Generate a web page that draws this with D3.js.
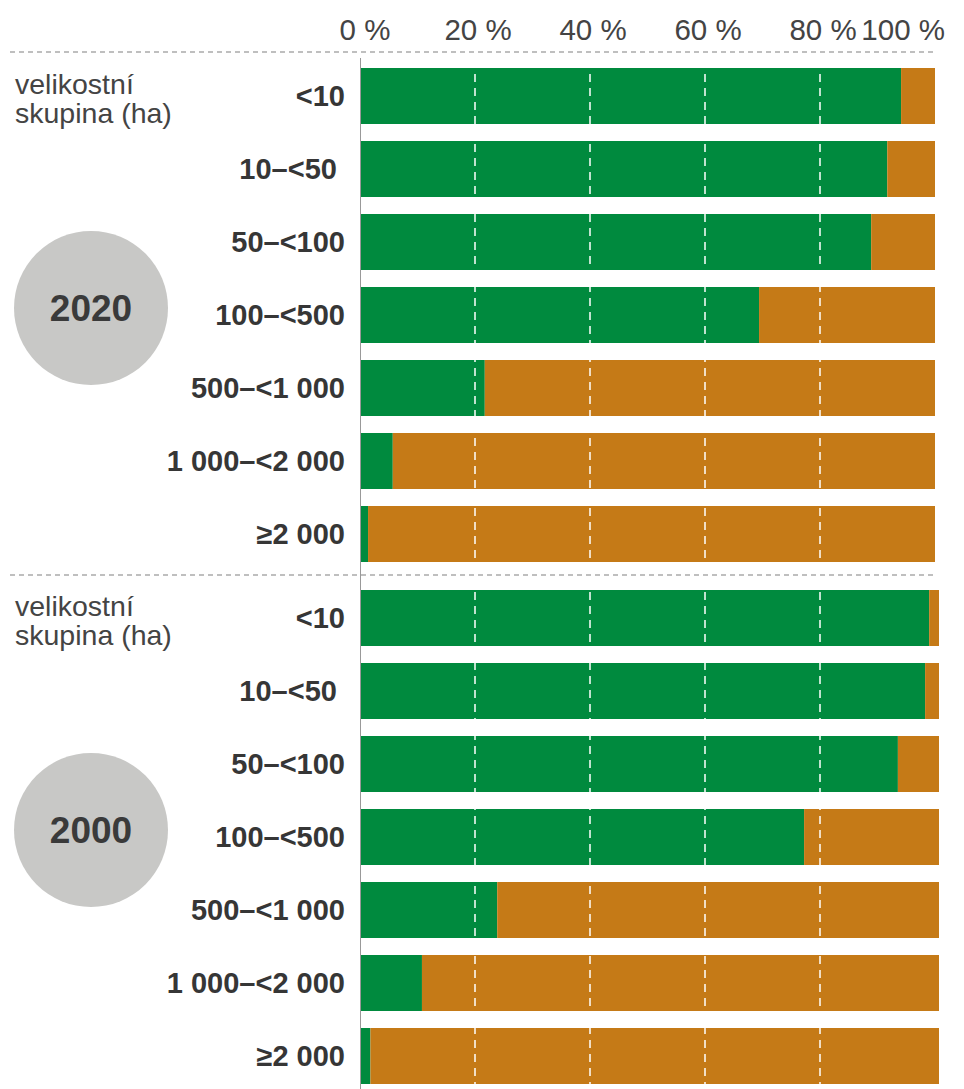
<!DOCTYPE html>
<html>
<head>
<meta charset="utf-8">
<script src="https://cdn.jsdelivr.net/npm/d3@7"></script>
<style>
  html, body { margin: 0; padding: 0; background: #fff; }
  svg { display: block; }
</style>
</head>
<body>
<svg id="chart" width="964" height="1089"></svg>
<script>
// ---- data ----
const categories = ["<10", "10\u2013<50\u00a0", "50\u2013<100", "100\u2013<500", "500\u2013<1\u00a0000", "1\u00a0000\u2013<2\u00a0000", "\u22652\u00a0000"];
const years = ["2020", "2000"];
const green2020 = [94.1, 91.7, 88.9, 69.4, 21.7, 5.7, 1.4];
const green2000 = [98.3, 97.6, 92.9, 76.7, 23.7, 10.7, 1.8];
const tickValues = [0, 20, 40, 60, 80, 100];
const tickLabels = ["0 %", "20 %", "40 %", "60 %", "80 %", "100 %"];
const groupLabel = ["velikostní", "skupina (ha)"];

const GREEN = "#008a3e", ORANGE = "#c57a17", CIRCLE = "#c8c8c6", TEXT = "#363636";
const FONT = "'Liberation Sans', Arial, sans-serif";

const svg = d3.select("#chart");

// axis scale (used for ticks and grid)
const x = d3.scaleLinear().domain([0, 100]).range([360, 935]);
const panels = [
  { year: years[0], values: green2020, x: d3.scaleLinear().domain([0, 100]).range([360, 935]), y0: 59.5, y1: 570.5, cy: 308 },
  { year: years[1], values: green2000, x: d3.scaleLinear().domain([0, 100]).range([360, 939]), y0: 581.5, y1: 1092.5, cy: 830 }
];

// dashed separators
[52, 575].forEach(yy => {
  svg.append("line").attr("x1", 10).attr("x2", 936).attr("y1", yy).attr("y2", yy)
    .attr("stroke", "#aaa").attr("stroke-width", 1.5).attr("stroke-dasharray", "5,4");
});

// tick labels
svg.append("g").selectAll("text").data(tickValues).join("text")
  .attr("x", (d, i) => i === tickValues.length - 1 ? 945 : x(d) + (i === 0 ? 5 : 3))
  .attr("y", 40)
  .attr("text-anchor", (d, i) => i === tickValues.length - 1 ? "end" : "middle")
  .attr("font-family", FONT).attr("font-size", 29.5).attr("fill", "#444")
  .text((d, i) => tickLabels[i]);

panels.forEach(p => {
  const y = d3.scaleBand().domain(categories).range([p.y0, p.y1]).paddingInner(0.233).paddingOuter(0.1165);
  const g = svg.append("g");
  // green
  g.selectAll("rect.g").data(categories).join("rect")
    .attr("x", p.x(0)).attr("y", d => y(d))
    .attr("width", (d, i) => p.x(p.values[i]) - p.x(0))
    .attr("height", y.bandwidth()).attr("fill", GREEN);
  // orange
  g.selectAll("rect.o").data(categories).join("rect")
    .attr("x", (d, i) => p.x(p.values[i])).attr("y", d => y(d))
    .attr("width", (d, i) => p.x(100) - p.x(p.values[i]))
    .attr("height", y.bandwidth()).attr("fill", ORANGE);
  // row labels
  g.selectAll("text.cat").data(categories).join("text")
    .attr("x", 345).attr("y", d => y(d) + y.bandwidth() / 2 + 10)
    .attr("text-anchor", "end").attr("font-family", FONT).attr("font-weight", "bold")
    .attr("font-size", 29).attr("fill", TEXT).style("white-space", "pre")
    .text(d => d);
  // group label
  const first = y(categories[0]);
  g.selectAll("text.gl").data(groupLabel).join("text")
    .attr("x", 15).attr("y", (d, i) => first + 26 + i * 29)
    .attr("font-family", FONT).attr("font-size", 28.5).attr("fill", "#444")
    .text(d => d);
  // year circle
  g.append("circle").attr("cx", 91).attr("cy", p.cy).attr("r", 77).attr("fill", CIRCLE);
  g.append("text").attr("x", 91).attr("y", p.cy + 13).attr("text-anchor", "middle")
    .attr("font-family", FONT).attr("font-weight", "bold").attr("font-size", 37)
    .attr("fill", "#3a3a3a").text(p.year);
});

// white dashed grid lines
svg.append("g").selectAll("line").data(tickValues.slice(1, 5)).join("line")
  .attr("x1", d => x(d)).attr("x2", d => x(d)).attr("y1", 60).attr("y2", 1089)
  .attr("stroke", "#fff").attr("stroke-width", 1.5).attr("stroke-dasharray", "8,6");

// vertical axis line
svg.append("line").attr("x1", 360.5).attr("x2", 360.5).attr("y1", 58).attr("y2", 1089)
  .attr("stroke", "#999").attr("stroke-width", 1);
</script>
</body>
</html>
